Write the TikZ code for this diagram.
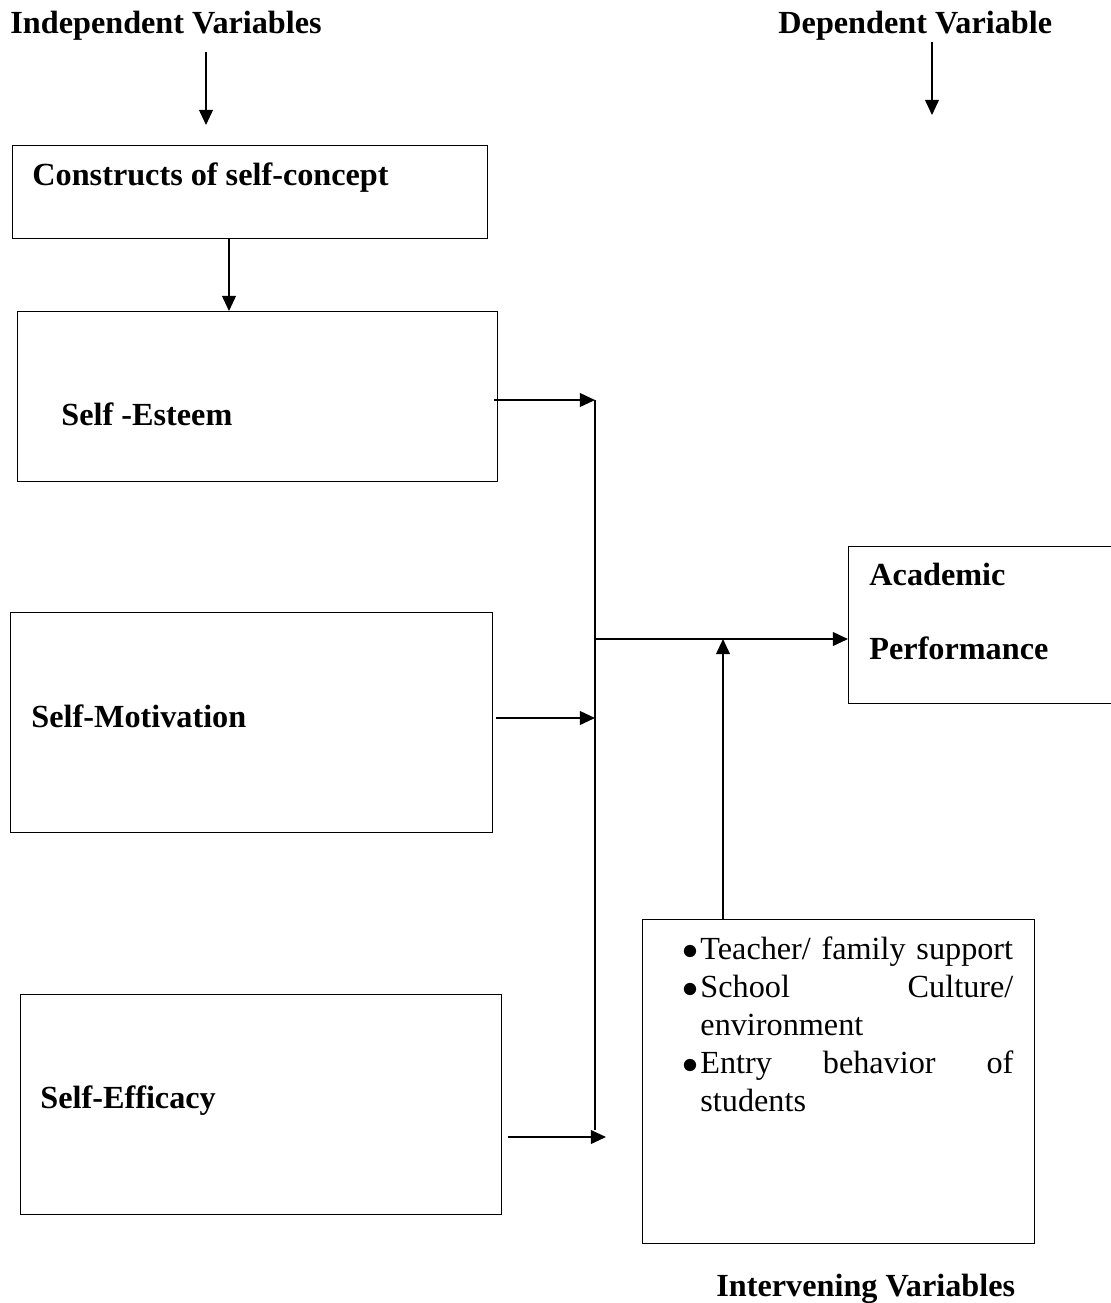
\documentclass[tikz,border=0pt]{standalone}
\usepackage{fontspec}
\setmainfont{Liberation Serif}
\usetikzlibrary{arrows.meta,positioning}

\begin{document}
\begin{tikzpicture}[
		x=0.45pt, y=-0.45pt,
		box/.style={draw, line width=0.45pt, anchor=north west, inner sep=0pt},
		title/.style={anchor=base west, inner sep=0pt, font=\bfseries\fontsize{14.5}{17}\selectfont},
		arr/.style={-{Triangle[length=6.8pt, width=6.2pt]}, line width=0.7pt}
	]
		\useasboundingbox (0,0) rectangle (1111,1303);

		% headings
		\node[title] (indep) at (10,33) {Independent Variables};
		\node[title] (dep) at (778,33) {Dependent Variable};
		\node[title] (interv t) at (716,1296) {Intervening Variables};

		% boxes
		\node[box, minimum width=213.75pt, minimum height=41.85pt] (cons) at (12,145) {};
		\node[box, minimum width=216pt, minimum height=76.5pt] (esteem) at (17,311) {};
		\node[box, minimum width=216.9pt, minimum height=99pt] (motiv) at (10,612) {};
		\node[box, minimum width=216.45pt, minimum height=99pt] (effic) at (20,994) {};
		\node[box, minimum width=119.25pt, minimum height=70.65pt] (acad) at (848,546) {};
		\node[box, minimum width=176.4pt, minimum height=145.8pt] (interv) at (642,919) {};

		% box texts
		\node[title] (cons t) at (32,185) {Constructs of self-concept};
		\node[title] (esteem t) at (61,425) {Self -Esteem};
		\node[title] (motiv t) at (31,727) {Self-Motivation};
		\node[title] (effic t) at (40,1108) {Self-Efficacy};
		\node[anchor=base west, inner sep=0pt, text width=110pt, align=left,
			font=\bfseries\fontsize{14.5}{33.3}\selectfont] (acad t) at (869,585)
			{Academic\\Performance};
		\node[anchor=base west, inner sep=0pt, text width=140.8pt, align=left,
			font=\fontsize{14.5}{17.1}\selectfont] (interv list) at (700,959)
			{\leavevmode\llap{$\bullet$\hspace{1pt}}Teacher/ family support\\
			\leavevmode\llap{$\bullet$\hspace{1pt}}School\hfill Culture/\\
			environment\\
			\leavevmode\llap{$\bullet$\hspace{1pt}}Entry\hfill behavior\hfill of\\
			students};

		% junction points
		\coordinate (in a) at (206,52);
		\coordinate (in b) at (206,125);
		\coordinate (dep a) at (932,42);
		\coordinate (dep b) at (932,115);
		\coordinate (cons x) at (229,0);
		\coordinate (j1) at (595,400);
		\coordinate (j2) at (595,718);
		\coordinate (j0) at (595,639);
		\coordinate (j3) at (595,1130);
		\coordinate (j4) at (606,1137);
		\coordinate (up x) at (723,0);

		% connectors
		\draw[arr] (in a) -- (in b);
		\draw[arr] (dep a) -- (dep b);
		\draw[arr] (cons.south -| cons x) -- (esteem.north -| cons x);
		\draw[arr] ([xshift=-1.8pt]esteem.east |- j1) -- (j1);
		\draw[arr] ([xshift=1.3pt]motiv.east |- j2) -- (j2);
		\draw[arr] ([xshift=2.7pt]effic.east |- j4) -- (j4);
		\draw[line width=0.7pt] (j1) -- (j3);
		\draw[arr] (j0) -- (acad.west |- j0);
		\draw[arr] (interv.north -| up x) -- (j0 -| up x);
	\end{tikzpicture}
\end{document}
